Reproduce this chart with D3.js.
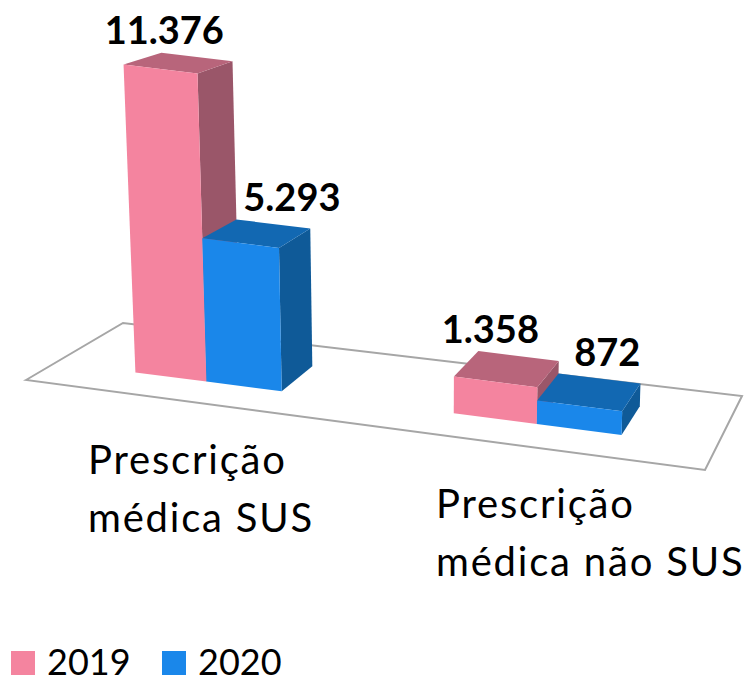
<!DOCTYPE html>
<html lang="en">

<head>
    <meta charset="UTF-8">
    <title>Prescrição médica</title>
    <script src="https://d3js.org/d3.v7.min.js"></script>
    <style>
        body {
            margin: 0;
            background-color: #fff;
        }

        svg {
            display: block;
            font-family: Lato, "Open Sans", sans-serif;
            fill: #000;
        }

        .value-label {
            font-size: 38px;
            font-weight: 700;
            text-anchor: middle;
        }

        .category-label {
            font-size: 40px;
            letter-spacing: 1.8px;
        }

        .legend-label {
            font-size: 36px;
        }
    </style>
</head>

<body>
    <svg id="chart" width="751" height="677"></svg>
    <script>
        const categories = ["Prescrição médica SUS", "Prescrição médica não SUS"];
        const categoryLines = [["Prescrição", "médica SUS"], ["Prescrição", "médica não SUS"]];
        const series = ["2019", "2020"];
        const values2019 = [11376, 1358];
        const values2020 = [5293, 872];
        const valueLabels2019 = ["11.376", "1.358"];
        const valueLabels2020 = ["5.293", "872"];

        const colors = {
            "2019": { front: "#F4849F", top: "#B8657B", side: "#9A5669" },
            "2020": { front: "#1A87EA", top: "#1268B2", side: "#0F5A98" }
        };

        const svg = d3.select("#chart");

        // Corners of the floor as they show up on screen
        const floorFrontLeft = [26, 380];
        const floorFrontRight = [705, 470];
        const floorBackLeft = [123, 323];
        const floorBackRight = [742, 396];

        // Bars get a bit wider to the right, so the band goes through a pow scale
        const xCategory = d3.scaleBand().domain(categories).range([0.025, 1]).paddingInner(0.519).paddingOuter(0.2645);
        const xSeries = d3.scaleBand().domain(series).range([0, xCategory.bandwidth()]);
        const perspective = d3.scalePow().exponent(1.13).domain([0, 1]).range([0, 1]);
        const heightScale = d3.scaleLinear().domain([0, 12000]).range([0, 325]);

        const depthFront = 0.31;
        const depthBack = 0.71;

        // u along the floor, v into the floor, h is height in pixels
        function project(u, v, h) {
            const p = perspective(u);
            const frontX = floorFrontLeft[0] + p * (floorFrontRight[0] - floorFrontLeft[0]);
            const frontY = floorFrontLeft[1] + p * (floorFrontRight[1] - floorFrontLeft[1]);
            const backX = floorBackLeft[0] + p * (floorBackRight[0] - floorBackLeft[0]);
            const backY = floorBackLeft[1] + p * (floorBackRight[1] - floorBackLeft[1]);
            const baseX = frontX + v * (backX - frontX);
            const baseY = frontY + v * (backY - frontY);
            const lift = h * (1 - 0.0975 * (v - depthFront));
            return [baseX + (baseX - 424) * lift / 7500, baseY - lift];
        }

        const polygonPath = points => "M" + points.map(p => p.join(",")).join("L") + "Z";

        // Floor
        svg.append("path")
            .attr("d", polygonPath([floorFrontLeft, floorBackLeft, floorBackRight, floorFrontRight]))
            .attr("fill", "#fff")
            .attr("stroke", "#A6A6A6")
            .attr("stroke-width", 2);

        const barValues = { "2019": values2019, "2020": values2020 };
        const barLabels = { "2019": valueLabels2019, "2020": valueLabels2020 };
        const labelShift = { "2019": [-32, -28], "2020": [19, 8] };

        // Bars, 2019 first so the 2020 bar covers its side
        categories.forEach((category, i) => {
            series.forEach(year => {
                const u0 = xCategory(category) + xSeries(year);
                const u1 = u0 + xSeries.bandwidth();
                const h = heightScale(barValues[year][i]);
                const bar = svg.append("g").attr("class", "bar");

                bar.append("path")
                    .attr("d", polygonPath([project(u1, depthFront, 0), project(u1, depthBack, 0), project(u1, depthBack, h), project(u1, depthFront, h)]))
                    .attr("fill", colors[year].side);
                bar.append("path")
                    .attr("d", polygonPath([project(u0, depthFront, h), project(u1, depthFront, h), project(u1, depthBack, h), project(u0, depthBack, h)]))
                    .attr("fill", colors[year].top);
                bar.append("path")
                    .attr("d", polygonPath([project(u0, depthFront, 0), project(u1, depthFront, 0), project(u1, depthFront, h), project(u0, depthFront, h)]))
                    .attr("fill", colors[year].front);
            });
        });

        // Value labels go on top so nothing covers them
        categories.forEach((category, i) => {
            series.forEach(year => {
                const u0 = xCategory(category) + xSeries(year);
                const u1 = u0 + xSeries.bandwidth();
                const h = heightScale(barValues[year][i]);
                const anchor = project((u0 + u1) / 2, depthBack, h);
                svg.append("text")
                    .attr("class", "value-label")
                    .attr("x", anchor[0] + labelShift[year][i])
                    .attr("y", anchor[1] - 13)
                    .text(barLabels[year][i]);
            });
        });

        // Category labels under the floor
        const labelLeft = [88, 436];
        const labelBaseline = [474, 518];
        categoryLines.forEach((lines, i) => {
            lines.forEach((line, j) => {
                svg.append("text")
                    .attr("class", "category-label")
                    .attr("x", labelLeft[i])
                    .attr("y", labelBaseline[i] + j * 57.5)
                    .text(line);
            });
        });

        // Legend
        const legendX = d3.scalePoint().domain(series).range([11, 162]);
        series.forEach(year => {
            svg.append("rect")
                .attr("x", legendX(year))
                .attr("y", 651)
                .attr("width", 24)
                .attr("height", 24)
                .attr("fill", colors[year].front);
            svg.append("text")
                .attr("class", "legend-label")
                .attr("x", legendX(year) + 36)
                .attr("y", 675)
                .text(year);
        });
    </script>
</body>

</html>
